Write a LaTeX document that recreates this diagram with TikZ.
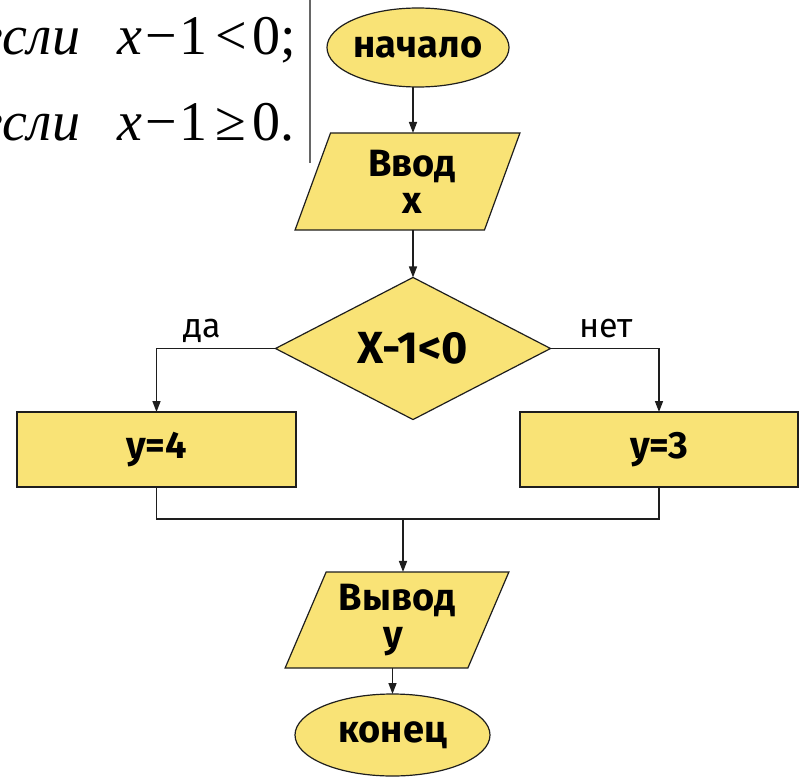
\documentclass[tikz,border=0pt]{standalone}
\usepackage{fontspec}
\setmainfont{Fira Sans}
\newfontfamily\serifface{Liberation Serif}
\usetikzlibrary{shapes.geometric,arrows.meta}
\definecolor{boxfill}{RGB}{249,227,118}
\definecolor{inkline}{RGB}{30,30,30}
\begin{document}
\begin{tikzpicture}[x=1pt,y=-1pt,
  every node/.style={inner sep=0pt, outer sep=0pt},
  blk/.style={draw=inkline, line width=1.2pt, fill=boxfill},
  terminal/.style={blk, ellipse},
  io/.style={blk, trapezium, trapezium stretches=true},
  proc/.style={blk, rectangle},
  cond/.style={blk, diamond},
  lbl/.style={font=\fontsize{38}{37}\selectfont\bfseries, align=center},
  branch/.style={font=\fontsize{34}{34}\selectfont},
  flow/.style={line width=1.5pt, draw=inkline},
  arr/.style={flow, -{Triangle[length=11pt,width=8pt]}},
  formula/.style={font=\serifface\fontsize{56}{56}\selectfont},
]
\useasboundingbox (0,0) rectangle (800,781);
\clip (0,0) rectangle (800,781);
\fill[white] (0,0) rectangle (800,781);

% piecewise condition at the left margin (its first letter runs off the page)
\node[formula, anchor=base east] (e1) at (80,55) {\itshape если};
\node[formula, anchor=base west] (f1) at (117,55) {{\itshape x}\kern4pt−\kern2pt1\kern8pt<\kern6pt0;};
\node[formula, anchor=base east] (e2) at (80,140) {\itshape если};
\node[formula, anchor=base west] (f2) at (117,140) {{\itshape x}\kern4pt−\kern2pt1\kern8pt≥\kern6pt0.};
\draw[line width=2pt, draw=black!60] (310,0) -- (310,163);

% flowchart blocks
\node[terminal, minimum width=182, minimum height=79, lbl] (start) at (418,47.5) {начало};
\node[io, trapezium left angle=70.7, trapezium right angle=109.3,
      minimum width=225, minimum height=97, lbl] (in1) at (407.5,181.5) {\hspace*{9pt}Ввод\\\hspace*{9pt}x};
\node[cond, minimum width=275, minimum height=127, lbl, font=\fontsize{45}{45}\selectfont\bfseries] (dec) at (413,348.5) {X-1<0};
\node[proc, minimum width=279, minimum height=75, lbl] (yes) at (156.5,449.5) {y=4};
\node[proc, minimum width=278, minimum height=75, lbl] (no) at (659,449.5) {y=3};
\node[io, trapezium left angle=64.9, trapezium right angle=115.1,
      minimum width=224, minimum height=96, lbl] (out1) at (397,620) {Вывод\\\hspace*{-8pt}y};
\node[terminal, minimum width=195, minimum height=82, lbl] (end) at (392.5,735) {конец};

% branch labels
\node[branch] (lyes) at (202,331) {да};
\node[branch] (lno) at (606,329) {нет};

% connectors
\coordinate (merge) at (403,519);
\draw[arr] (start.south -| dec.north) -- (in1.north -| dec.north);
\draw[arr] (in1.south -| dec.north) -- (dec.north);
\draw[arr] (dec.west) -| (yes.north);
\draw[arr] (dec.east) -| (no.north);
\draw[flow] (yes.south) |- (merge) -| (no.south);
\draw[arr] (merge) -- (merge |- out1.north);
\draw[arr] (end.north |- out1.south) -- (end.north);
\end{tikzpicture}
\end{document}
